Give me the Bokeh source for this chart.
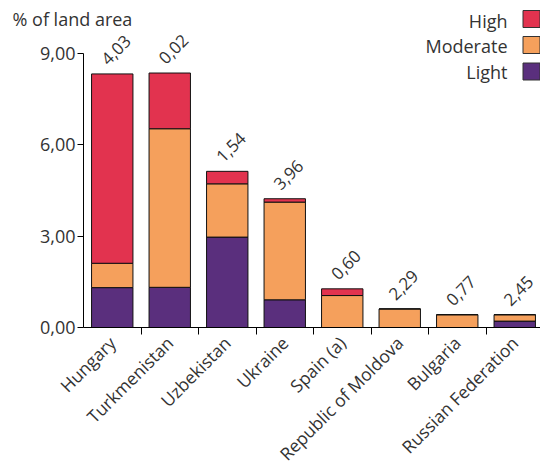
import numpy as np
from math import pi
from bokeh.plotting import figure
from bokeh.models import ColumnDataSource, Range1d, FixedTicker, Label
from bokeh.embed import file_html
from bokeh.resources import INLINE
from bokeh.core.properties import value

# ---- data ----
countries = ["Hungary", "Turkmenistan", "Uzbekistan", "Ukraine", "Spain (a)",
             "Republic of Moldova", "Bulgaria", "Russian Federation"]
light = [1.31, 1.32, 2.97, 0.91, 0.0, 0.0, 0.0, 0.21]
moderate = [0.80, 5.21, 1.75, 3.21, 1.05, 0.61, 0.42, 0.21]
high = [6.22, 1.83, 0.41, 0.11, 0.22, 0.0, 0.0, 0.0]
value_labels = ["4,03", "0,02", "1,54", "3,96", "0,60", "2,29", "0,77", "2,45"]
series_names = ["Light", "Moderate", "High"]
series_colors = ["#5A2F7D", "#F5A05C", "#E2334F"]
y_ticks = [0, 3, 6, 9]
y_tick_labels = ["0,00", "3,00", "6,00", "9,00"]
y_title = "% of land area"

FONT = "Open Sans"
TXT = "#333333"
FS = "18px"

n = len(countries)
xc = np.arange(n) + 0.5
totals = np.array(light) + np.array(moderate) + np.array(high)
src = ColumnDataSource(dict(x=xc, light=light, moderate=moderate, high=high,
                            total=totals, lab=value_labels))

# layout constants (pixels)
W, H = 540, 467
X0_PX, X_PX = 83, 57.5      # where category 0 starts, px per category
Y0_PX, Y_PX = 327, 30.44    # where value 0 sits, px per unit

x_range = Range1d(-X0_PX / X_PX, (W - X0_PX) / X_PX)
y_range = Range1d(-(H - Y0_PX) / Y_PX, Y0_PX / Y_PX)

p = figure(width=W, height=H, x_range=x_range, y_range=y_range,
           output_backend="svg", toolbar_location=None,
           min_border_left=0, min_border_right=0, min_border_top=0,
           min_border_bottom=0)
p.outline_line_color = None
p.xgrid.visible = False
p.ygrid.visible = False
p.background_fill_color = "white"

p.vbar_stack(["light", "moderate", "high"], x="x", width=0.72, source=src,
             fill_color=series_colors, line_color="#111111", line_width=1)

p.text(x="x", y="total", text="lab", source=src, angle=pi / 4,
       x_offset=-8, y_offset=-12, text_align="left", text_baseline="alphabetic",
       text_font=value(FONT), text_font_size="17px", text_color=TXT)

# x axis, pinned at y = 0 inside the frame
xa = p.xaxis[0]
xa.fixed_location = 0
xa.bounds = (0, n)
xa.ticker = FixedTicker(ticks=list(xc), minor_ticks=list(range(1, n + 1)))
xa.major_label_overrides = {float(x): c for x, c in zip(xc, countries)}
xa.major_tick_line_color = None
xa.major_tick_out = 5
xa.major_tick_in = 0
xa.major_label_standoff = 5
xa.minor_tick_out = 7
xa.minor_tick_in = 0
xa.minor_tick_line_color = "black"
xa.major_label_orientation = pi / 4
xa.axis_line_color = "black"
xa.major_label_text_font = FONT
xa.major_label_text_font_size = "17.5px"
xa.major_label_text_color = TXT

# y axis, pinned at x = 0 inside the frame
ya = p.yaxis[0]
ya.fixed_location = 0
ya.ticker = FixedTicker(ticks=y_ticks)
ya.major_label_overrides = {t: l for t, l in zip(y_ticks, y_tick_labels)}
ya.bounds = (0, 9)
ya.major_tick_out = 6
ya.major_tick_in = 0
ya.major_label_standoff = 2
ya.minor_tick_line_color = None
ya.axis_line_color = "black"
ya.major_tick_line_color = "black"
ya.major_label_text_font = FONT
ya.major_label_text_font_size = FS
ya.major_label_text_color = TXT

def dx(px):
    return (px - X0_PX) / X_PX
def dy(py):
    return (Y0_PX - py) / Y_PX

# title
p.add_layout(Label(x=dx(12), y=dy(18), text=y_title, text_align="left",
                   text_baseline="middle", text_font=FONT,
                   text_font_size=FS, text_color=TXT))

# legend (High, Moderate, Light from top)
sq_rows = [18.5, 44.5, 71]
txt_rows = [20, 45, 71]
leg_names = series_names[::-1]
leg_cols = series_colors[::-1]
p.rect(x=[dx(531)] * 3, y=[dy(r) for r in sq_rows], width=17, height=17,
       width_units="screen", height_units="screen", fill_color=leg_cols,
       line_color="#333333", line_width=1)
for r, nm in zip(txt_rows, leg_names):
    p.add_layout(Label(x=dx(507), y=dy(r), text=nm, text_align="right",
                       text_baseline="middle", text_font=FONT,
                       text_font_size=FS, text_color=TXT))

open("out.html", "w").write(file_html(p, INLINE))
